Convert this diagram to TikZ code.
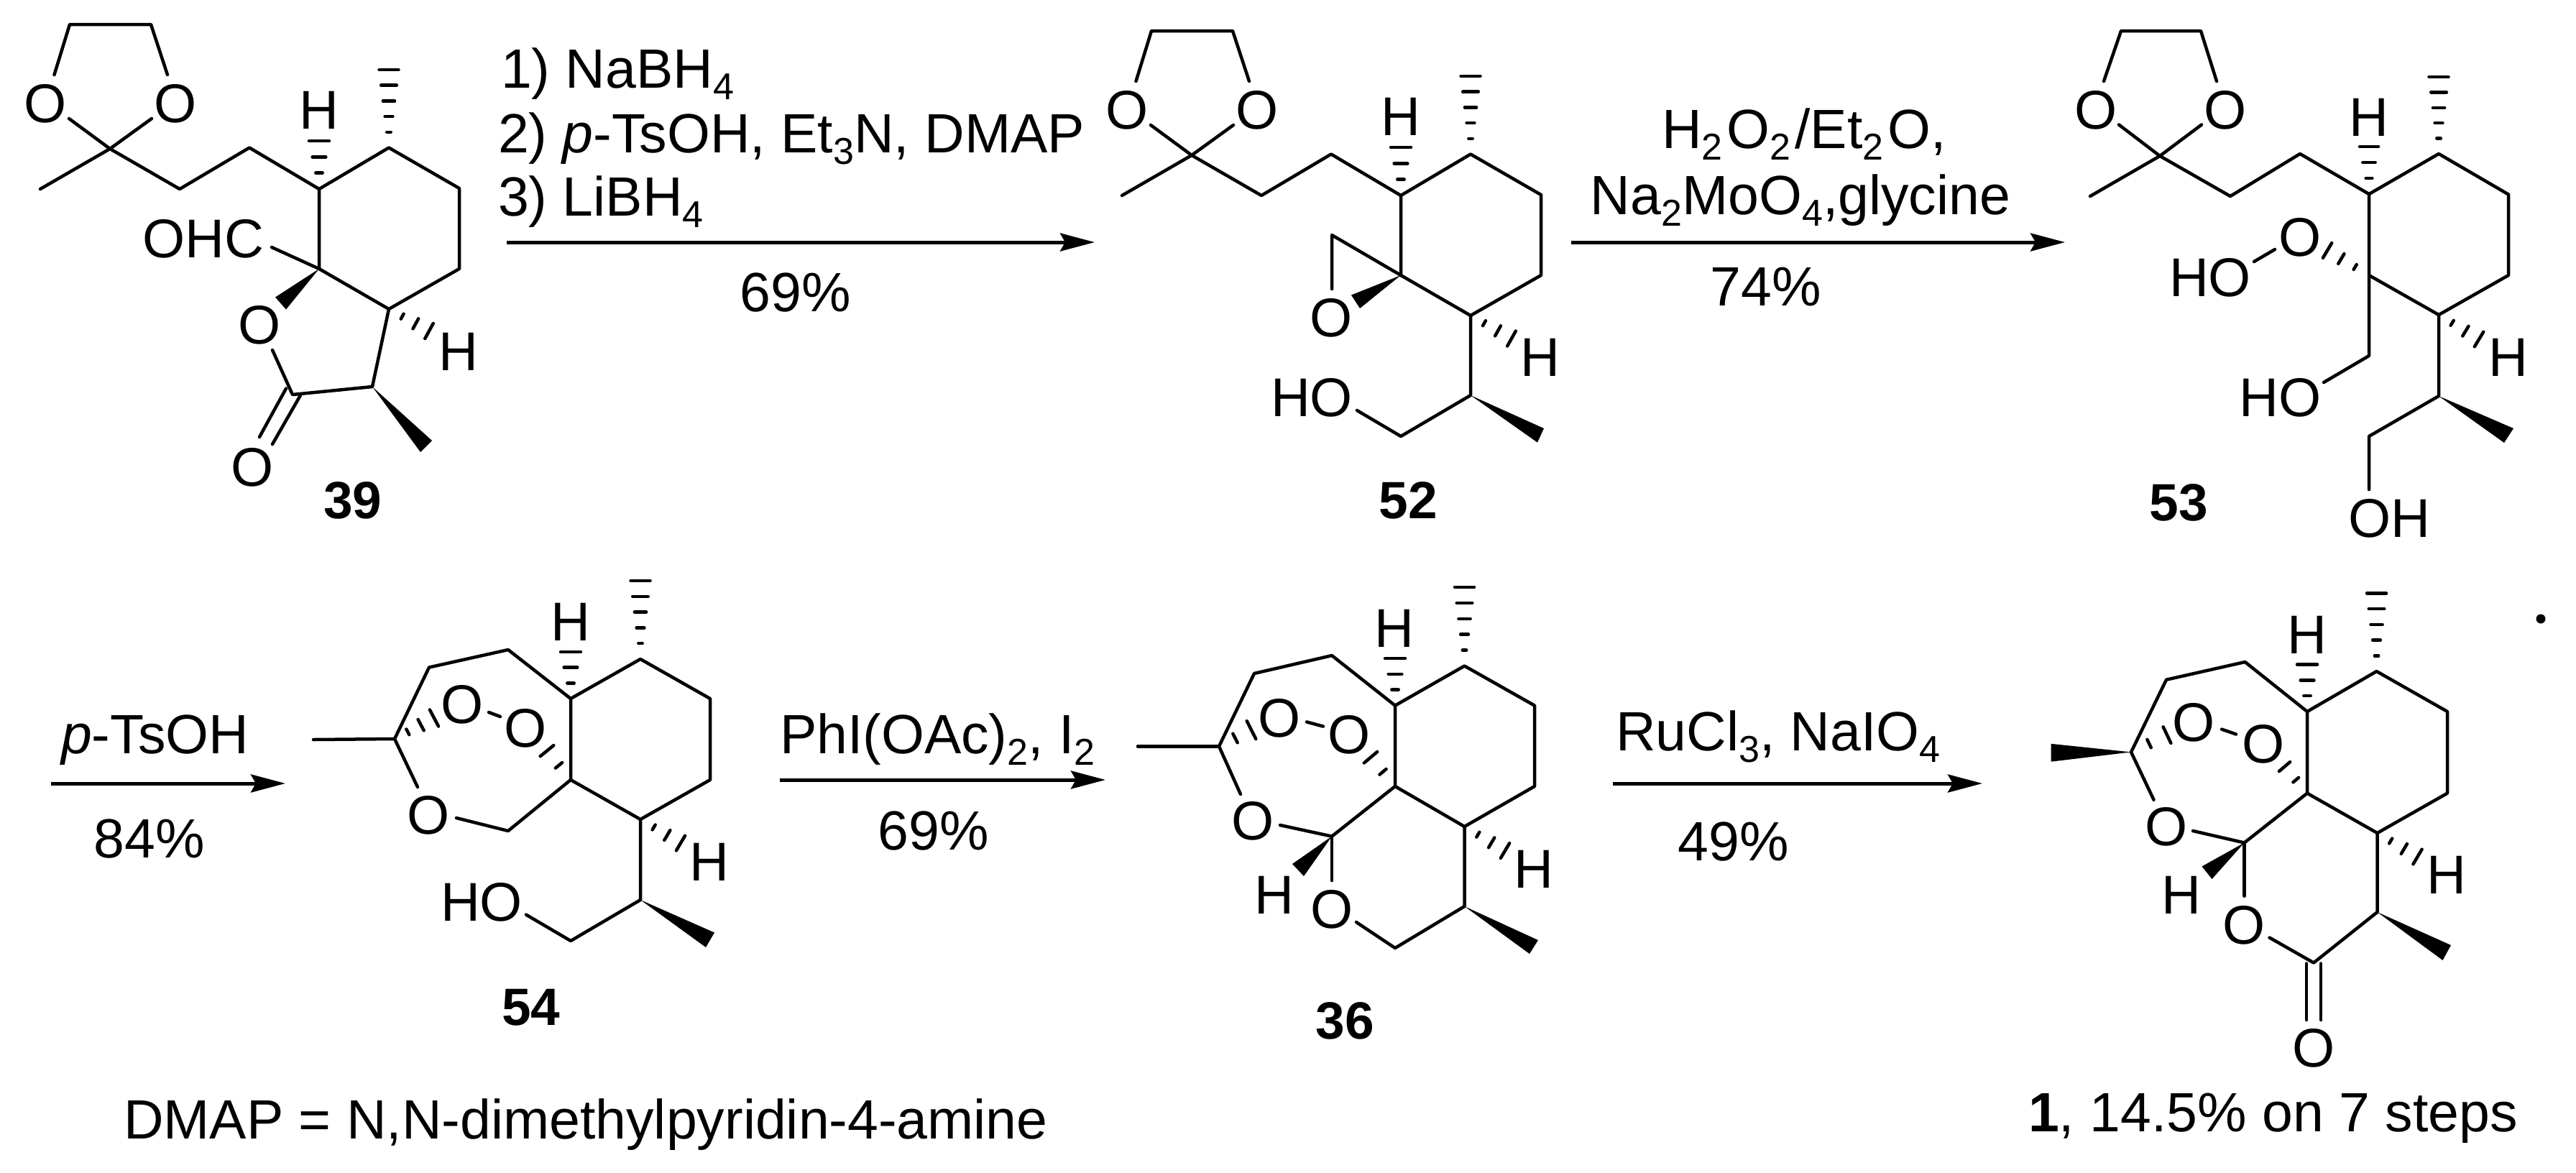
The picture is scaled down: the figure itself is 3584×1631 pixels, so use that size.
\documentclass[tikz,border=0pt]{standalone}
\usepackage{fontspec}
\setmainfont{Liberation Sans}
\usetikzlibrary{arrows.meta}
\newcommand\sbs[1]{\raisebox{-16pt}{\fontsize{52}{60}\selectfont #1}}
% hashed bond: x1 y1 x2 y2 strokes half-width
\newcommand\hb[6]{%
  \pgfmathsetmacro\hbDx{#3-(#1)}\pgfmathsetmacro\hbDy{#4-(#2)}%
  \pgfmathsetmacro\hbL{veclen(\hbDx,\hbDy)}%
  \foreach \hbI in {1,...,#5}{%
    \pgfmathsetmacro\hbT{\hbI/#5}%
    \pgfmathsetmacro\hbPx{#1+\hbT*\hbDx}\pgfmathsetmacro\hbPy{#2+\hbT*\hbDy}%
    \pgfmathsetmacro\hbWx{-\hbDy/\hbL*#6*\hbT}\pgfmathsetmacro\hbWy{\hbDx/\hbL*#6*\hbT}%
    \draw[hashbond] ({\hbPx-(\hbWx)},{\hbPy-(\hbWy)}) -- ({\hbPx+\hbWx},{\hbPy+\hbWy});
  }}
% solid wedge: tip, corner, corner
\newcommand\wdg[3]{\fill (#1) -- (#2) -- (#3) -- cycle;}
% dioxolane side chain and upper ring shared by 39 and 52
\newcommand\topframe[1]{%
  \node[atom] (#1o1) at (63,144) {O};
  \node[atom] (#1o2) at (244,144) {O};
  \node[atom] (#1h1) at (444,153) {H};
  \draw[bond] (75.5,104) -- (97,34) -- (210,34) -- (233,104);
  \draw[bond] (96,165) -- (153,207) -- (211,165);
  \draw[bond] (56,263) -- (153,207) -- (250,263) -- (347,205.5) -- (444,263);
  \draw[bond] (444,263) -- (541,205.5) -- (639,262) -- (639,374) -- (541,430) -- (444,374) -- cycle;
  \hb{541}{205.5}{541}{97}{5}{13.5}
  \hb{444}{263}{444}{196}{3}{14}
}
\tikzset{
  bond/.style={line width=4.5pt,line cap=round,line join=round},
  hashbond/.style={line width=4.5pt,line cap=round},
  rxn/.style={line width=5pt,-{Stealth[length=48pt,width=25pt,inset=7pt]}},
  atom/.style={font=\fontsize{76}{90}\selectfont,inner sep=0pt,outer sep=0pt},
  txt/.style={font=\fontsize{77}{92}\selectfont,inner sep=0pt,outer sep=0pt,anchor=base west},
  ctxt/.style={font=\fontsize{77}{92}\selectfont,inner sep=0pt,outer sep=0pt,anchor=base},
  cpd/.style={font=\fontsize{73}{88}\selectfont\bfseries,inner sep=0pt,outer sep=0pt},
}
\begin{document}
\begin{tikzpicture}[x=1pt,y=-1pt]
\useasboundingbox (0,0) rectangle (3584,1631);
\fill[white] (0,0) rectangle (3584,1631);

% ---------- 39
\topframe{a}
\node[atom] (aCHO) at (283,332) {OHC};
\node[atom] (aO3) at (361,452) {O};
\node[atom] (aO4) at (351,650.5) {O};
\node[atom] (aH2) at (638,489) {H};
\node[cpd] (c39) at (491,696) {39};
\draw[bond] (378,344) -- (444,374);
\draw[bond] (379,487) -- (407,549) -- (518,538) -- (541,430);
\draw[bond] (398,540.5) -- (361,608);
\draw[bond] (418,550) -- (379,618);
\wdg{444,374}{383,413.5}{398,430.5}
\wdg{518,538}{601,613}{585,629}
\hb{541}{430}{597}{460.5}{3}{12}

% ---------- 52
\begin{scope}[shift={(1505,9)}]
\topframe{b}
\end{scope}
\node[atom] (bO3) at (1852,442) {O};
\node[atom] (bHO) at (1825,553.5) {HO};
\node[atom] (bH2) at (2143,497) {H};
\node[cpd] (c52) at (1959,696) {52};
\draw[bond] (1853,402) -- (1853,327) -- (1949,383);
\draw[bond] (2046,439) -- (2046,550) -- (1949,607) -- (1888,571);
\wdg{1949,383}{1880,410.5}{1892,429}
\wdg{2046,550}{2148,596}{2139,615.6}
\hb{2046}{439}{2103}{471}{3}{12}

% ---------- 53
\node[atom] (dO1) at (2916,153) {O};
\node[atom] (dO2) at (3096,153) {O};
\node[atom] (dH1) at (3296,163) {H};
\node[atom] (dO3) at (3200,330.6) {O};
\node[atom] (dHO1) at (3075,386) {HO};
\node[atom] (dHO2) at (3172.5,553.6) {HO};
\node[atom] (dOH) at (3324,721) {OH};
\node[atom] (dH2) at (3490,497.5) {H};
\node[cpd] (c53) at (3031,699) {53};
\draw[bond] (2927,113) -- (2951,43) -- (3062,43) -- (3084,113);
\draw[bond] (2948,173.5) -- (3005,217) -- (3063,173.5);
\draw[bond] (2908,273) -- (3005,217) -- (3103,273) -- (3200,214) -- (3296,270);
\draw[bond] (3296,270) -- (3393,214) -- (3490,270.5) -- (3490,383) -- (3393,438) -- (3296,383) -- cycle;
\draw[bond] (3136,364) -- (3165,347);
\draw[bond] (3296,383) -- (3296,495) -- (3233,532);
\draw[bond] (3393,438) -- (3393,551) -- (3296,607) -- (3296,681);
\wdg{3393,551}{3497,596}{3484,616}
\hb{3393}{214}{3393}{107}{5}{13.5}
\hb{3296}{270}{3296}{204}{3}{13}
\hb{3296}{383}{3238}{348.5}{3}{12}
\hb{3393}{438}{3449}{472}{3}{12}

% ---------- 54
\node[atom] (eO1) at (643,980) {O};
\node[atom] (eO2) at (731,1013.5) {O};
\node[atom] (eO3) at (596,1134) {O};
\node[atom] (eH1) at (794,865.5) {H};
\node[atom] (eH2) at (987,1199) {H};
\node[atom] (eHO) at (670,1255) {HO};
\node[cpd] (c54) at (739,1402) {54};
\draw[bond] (794,972) -- (891,917) -- (988,972) -- (988,1085) -- (891,1140) -- (794,1085) -- cycle;
\draw[bond] (794,972) -- (707,904) -- (597,928.5) -- (549,1028) -- (581,1095);
\draw[bond] (436,1029) -- (549,1028);
\draw[bond] (635,1138) -- (707,1156) -- (794,1085);
\draw[bond] (680,991) -- (696,997);
\draw[bond] (891,1140) -- (891,1252) -- (794,1309) -- (732,1272.6);
\wdg{891,1252}{994,1297.5}{982,1318}
\hb{891}{917}{891}{808}{5}{13.5}
\hb{794}{972}{794}{907}{3}{14}
\hb{549}{1028}{604}{999}{3}{13}
\hb{794}{1085}{761}{1044.6}{2}{12}
\hb{891}{1140}{947}{1173}{3}{12}

% ---------- 36
\node[atom] (fO1) at (1780,999) {O};
\node[atom] (fO2) at (1877,1022) {O};
\node[atom] (fO3) at (1743,1142) {O};
\node[atom] (fO4) at (1853,1265) {O};
\node[atom] (fH1) at (1940,874.6) {H};
\node[atom] (fH2) at (2134,1209) {H};
\node[atom] (fH3) at (1773,1245.7) {H};
\node[cpd] (c36) at (1871,1420) {36};
\draw[bond] (1941,981.6) -- (2037.5,926.5) -- (2135,981.6) -- (2135,1094) -- (2037.5,1150) -- (1941,1094) -- cycle;
\draw[bond] (1941,981.6) -- (1853,912) -- (1745,937) -- (1696,1038.4) -- (1726,1105);
\draw[bond] (1583,1038.4) -- (1696,1038.4);
\draw[bond] (1781,1148) -- (1853,1163.6) -- (1941,1094);
\draw[bond] (1818,1004.4) -- (1841,1010.6);
\draw[bond] (1853,1163.6) -- (1853,1225);
\draw[bond] (1887,1283) -- (1941,1319) -- (2037.5,1261) -- (2037.5,1150);
\wdg{1853,1163.6}{1798,1202}{1814,1219}
\wdg{2037.5,1261}{2140,1308}{2128,1327}
\hb{2037.5}{926.5}{2037.5}{817}{5}{13.5}
\hb{1941}{981.6}{1941}{916}{3}{14}
\hb{1696}{1038.4}{1741}{1015.6}{2}{14}
\hb{1941}{1094}{1907}{1053.7}{2}{12}
\hb{2037.5}{1150}{2094}{1183.5}{3}{12}

% ---------- 1
\node[atom] (gO1) at (3052.5,1005.6) {O};
\node[atom] (gO2) at (3149,1035.8) {O};
\node[atom] (gO3) at (3014,1150.8) {O};
\node[atom] (gO4) at (3122.5,1287.5) {O};
\node[atom] (gO5) at (3219,1458) {O};
\node[atom] (gH1) at (3210,883.7) {H};
\node[atom] (gH2) at (3404,1217) {H};
\node[atom] (gH3) at (3035,1245) {H};
\draw[bond] (3210,990) -- (3306.5,934) -- (3405,990) -- (3405,1103.6) -- (3307.5,1159) -- (3210,1103.6) -- cycle;
\draw[bond] (3210,990) -- (3123.5,921) -- (3014,945.7) -- (2965,1046.4) -- (2996.5,1112.7);
\draw[bond] (3051,1156) -- (3122.5,1172.5) -- (3210,1103.6);
\draw[bond] (3091,1014.6) -- (3111,1021.5);
\draw[bond] (3122.5,1172.5) -- (3122.5,1246.7);
\draw[bond] (3157.5,1304.5) -- (3219,1339.5) -- (3307.5,1269) -- (3307.5,1159);
\draw[bond] (3209,1340.5) -- (3209,1419);
\draw[bond] (3229,1340.5) -- (3229,1419);
\wdg{2965,1046.4}{2853.5,1034.8}{2853.5,1059.7}
\wdg{3122.5,1172.5}{3063.5,1205.4}{3077.5,1223}
\wdg{3307.5,1269}{3410,1315}{3398.5,1336}
\hb{3306.5}{934}{3306.5}{825.4}{5}{13.5}
\hb{3210}{990}{3210}{924.5}{3}{14}
\hb{2965}{1046.4}{3015}{1022.6}{2}{12.5}
\hb{3210}{1103.6}{3178.5}{1066.6}{2}{10}
\hb{3307.5}{1159}{3363.5}{1192}{3}{12}
\node[txt] (gT) at (2822,1574) {\textbf{1}, 14.5\% on 7 steps};
\fill (3535,861) circle (6.5);

% ---------- reactions
\coordinate (r1s) at (705,337); \coordinate (r1e) at (1523,337);
\draw[rxn] (r1s) -- (r1e);
\node[txt] (r1a) at (697,122.7) {1) NaBH\sbs{4}};
\node[txt] (r1b) at (693,212) {2) \textit{p}-TsOH, Et\sbs{3}N, DMAP};
\node[txt] (r1c) at (693,300) {3) LiBH\sbs{4}};
\node[ctxt] (r1y) at (1107,433) {69\%};

\coordinate (r2s) at (2186,337); \coordinate (r2e) at (2873,337);
\draw[rxn] (r2s) -- (r2e);
\node[txt] (r2a) at (2312,206.7) {H\sbs{2}\kern6pt O\sbs{2}\kern6pt /Et\sbs{2}\kern6pt O,};
\node[ctxt] (r2b) at (2505,298) {Na\sbs{2}MoO\sbs{4},glycine};
\node[ctxt] (r2y) at (2457,425) {74\%};

\coordinate (r3s) at (71,1090); \coordinate (r3e) at (397,1090);
\draw[rxn] (r3s) -- (r3e);
\node[txt] (r3a) at (85,1048) {\textit{p}-TsOH};
\node[ctxt] (r3y) at (208,1193) {84\%};

\coordinate (r4s) at (1085,1085); \coordinate (r4e) at (1538,1085);
\draw[rxn] (r4s) -- (r4e);
\node[txt] (r4a) at (1085,1048) {PhI(OAc)\sbs{2}, I\sbs{2}};
\node[ctxt] (r4y) at (1299,1182.5) {69\%};

\coordinate (r5s) at (2244,1090); \coordinate (r5e) at (2758,1090);
\draw[rxn] (r5s) -- (r5e);
\node[txt] (r5a) at (2248,1044) {RuCl\sbs{3}, NaIO\sbs{4}};
\node[ctxt] (r5y) at (2412,1197) {49\%};

\node[txt] (note) at (172,1584.5) {DMAP = N,N-dimethylpyridin-4-amine};
\end{tikzpicture}
\end{document}
